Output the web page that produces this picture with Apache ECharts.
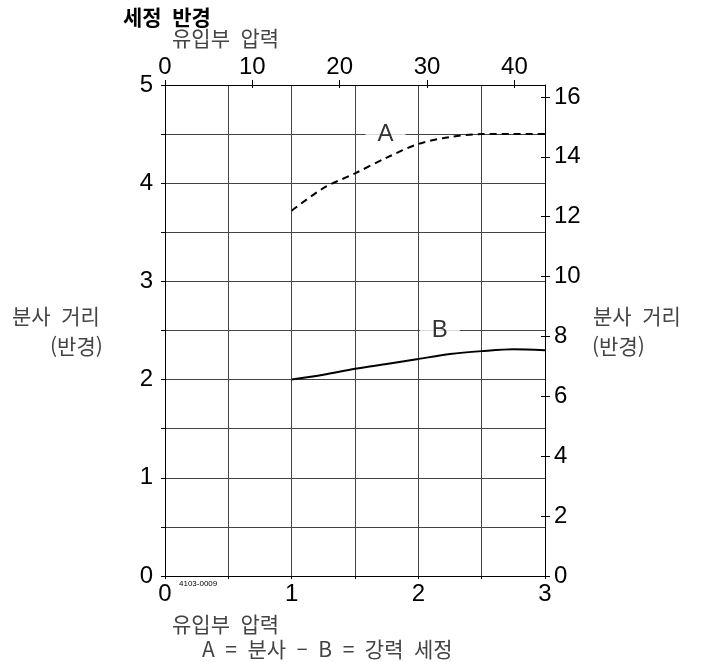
<!DOCTYPE html>
<html lang="ko">
<head>
    <meta charset="UTF-8">
    <title>세정 반경</title>
    <script src="https://cdn.jsdelivr.net/npm/echarts@6/dist/echarts.min.js"></script>
    <style>
        html, body { margin: 0; padding: 0; background: #fff; }
        #chart { width: 707px; height: 662px; }
    </style>
</head>
<body>
<div id="chart"></div>
<script>
    // 유입부 압력 (bar) 기준 곡선 값
    var pressureBar = [1, 1.25, 1.5, 1.75, 2, 2.25, 2.5, 2.75, 3];
    var sprayA = [3.72, 3.95, 4.10, 4.26, 4.40, 4.47, 4.50, 4.50, 4.50];
    var powerB = [2.00, 2.05, 2.11, 2.16, 2.21, 2.26, 2.29, 2.31, 2.30];

    // 곡선 이름표 (글자, 압력, 반경)
    var curveLabels = [['A', 1.74, 4.5], ['B', 2.17, 2.5]];

    var numFont = 'Liberation Sans';
    var kor = '"Noto Sans CJK KR"';
    var EN = '\u2002'; // 넓은 띄어쓰기

    function pairs(xs, ys) {
        var out = [];
        for (var i = 0; i < xs.length; i++) out.push([xs[i], ys[i]]);
        return out;
    }

    var myChart = echarts.init(document.getElementById('chart'), null, { renderer: 'canvas' });

    var gridRect = { left: 165, right: 162, top: 85, bottom: 86, containLabel: false };
    var axisLine = { show: true, onZero: false, lineStyle: { color: '#000', width: 1 } };
    var noLine = { show: false, onZero: false };
    var gridLine = { show: true, lineStyle: { color: '#444', width: 1 } };

    var option = {
        animation: false,
        backgroundColor: '#fff',
        grid: [gridRect, Object.assign({}, gridRect)],
        xAxis: [{
            // 아래: bar
            gridIndex: 0, type: 'value', position: 'bottom', min: 0, max: 3, interval: 0.5,
            axisLine: axisLine,
            axisTick: { show: true, length: 3, lineStyle: { color: '#000' } },
            axisLabel: {
                margin: 6, fontFamily: numFont, fontSize: 24, color: '#000',
                formatter: function (v) { return Number.isInteger(v) ? String(v) : ''; }
            },
            splitLine: gridLine
        }, {
            // 위: psi
            gridIndex: 0, type: 'value', position: 'top', min: 0, max: 43.5, interval: 10,
            axisLine: axisLine,
            axisTick: { show: true, length: 5, lineStyle: { color: '#000' } },
            axisLabel: { margin: 6, fontFamily: numFont, fontSize: 24, color: '#000', showMaxLabel: false },
            splitLine: { show: false }
        }, {
            gridIndex: 1, type: 'value', position: 'top', min: 0, max: 43.5, interval: 10,
            axisLine: noLine,
            axisTick: { show: true, inside: true, length: 3, lineStyle: { color: '#000' } },
            axisLabel: { show: false },
            splitLine: { show: false }
        }],
        yAxis: [{
            // 왼쪽: m
            gridIndex: 0, type: 'value', position: 'left', min: 0, max: 5, interval: 0.5,
            axisLine: axisLine,
            axisTick: { show: true, length: 4, lineStyle: { color: '#000' } },
            axisLabel: {
                margin: 12, fontFamily: numFont, fontSize: 24, color: '#000',
                formatter: function (v) { return Number.isInteger(v) ? String(v) : ''; }
            },
            splitLine: gridLine
        }, {
            // 오른쪽: ft
            gridIndex: 0, type: 'value', position: 'right', min: 0, max: 16.4, interval: 2,
            axisLine: axisLine,
            axisTick: { show: true, length: 5, lineStyle: { color: '#000' } },
            axisLabel: { margin: 9, fontFamily: numFont, fontSize: 24, color: '#000', showMaxLabel: false },
            splitLine: { show: false }
        }, {
            gridIndex: 1, type: 'value', position: 'right', min: 0, max: 16.4, interval: 2,
            axisLine: noLine,
            axisTick: { show: true, inside: true, length: 4, lineStyle: { color: '#000' } },
            axisLabel: { show: false },
            splitLine: { show: false }
        }],
        series: [{
            name: 'A', type: 'line', xAxisIndex: 0, yAxisIndex: 0,
            data: pairs(pressureBar, sprayA),
            smooth: 0.3, showSymbol: false, symbol: 'none',
            lineStyle: { color: '#000', width: 2, type: [7, 5] },
            z: 3
        }, {
            name: 'B', type: 'line', xAxisIndex: 0, yAxisIndex: 0,
            data: pairs(pressureBar, powerB),
            smooth: 0.3, showSymbol: false, symbol: 'none',
            lineStyle: { color: '#000', width: 2 },
            z: 3
        }, {
            name: 'labels', type: 'scatter', xAxisIndex: 0, yAxisIndex: 0,
            data: curveLabels.map(function (d) { return { value: [d[1], d[2]], name: d[0] }; }),
            symbol: 'rect', symbolSize: [40, 10],
            itemStyle: { color: '#fff' },
            label: {
                show: true, position: 'inside', formatter: '{b}',
                fontFamily: numFont, fontSize: 24, color: '#000'
            },
            z: 4
        }],
        graphic: [
            { type: 'text', left: 123, top: 7, style: { text: '세정' + EN + '반경', font: 'bold 21px ' + kor, fill: '#000' } },
            { type: 'text', left: 172, top: 28, style: { text: '유입부' + EN + '압력', font: '21px ' + kor, fill: '#444' } },
            { type: 'text', left: 12, top: 306, style: { text: '분사' + EN + '거리', font: '21px ' + kor, fill: '#444' } },
            { type: 'text', left: 50, top: 336, style: { text: '(반경)', font: '21px ' + kor, fill: '#444' } },
            { type: 'text', left: 593, top: 306, style: { text: '분사' + EN + '거리', font: '21px ' + kor, fill: '#444' } },
            { type: 'text', left: 592, top: 336, style: { text: '(반경)', font: '21px ' + kor, fill: '#444' } },
            { type: 'text', left: 172, top: 614, style: { text: '유입부' + EN + '압력', font: '21px ' + kor, fill: '#444' } },
            { type: 'text', left: 202, top: 639, style: { text: ['A', '=', '분사', '–', 'B', '=', '강력', '세정'].join(EN), font: '21px ' + kor, fill: '#444' } },
            { type: 'text', left: 179, top: 580, style: { text: '4103-0009', font: '8px "Liberation Sans"', fill: '#000' } }
        ]
    };
    myChart.setOption(option);
</script>
</body>
</html>
